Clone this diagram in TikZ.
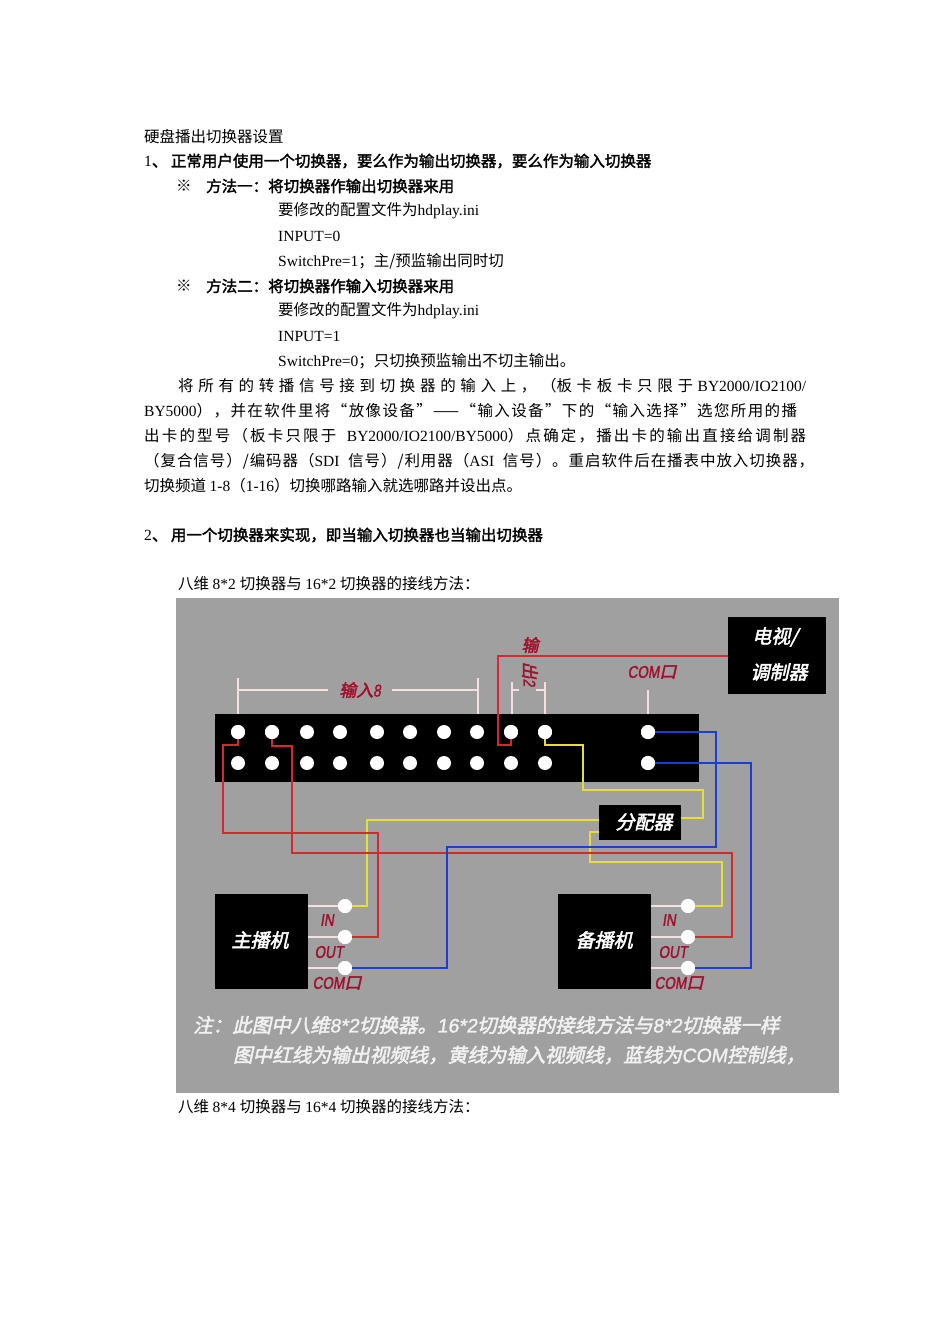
\documentclass[tikz,border=0pt]{standalone}
\usepackage{fontspec}
\setmainfont{Noto Sans CJK SC}
\newfontfamily\lat{Liberation Serif}
\newfontfamily\cjkb[FakeBold=2]{Noto Sans CJK SC}
\newfontfamily\dit[FakeSlant=0.22,FakeBold=2.5]{Noto Sans CJK SC}
\newfontfamily\latit[FakeSlant=0.15,FakeBold=1.5,FakeStretch=0.8]{Liberation Sans}
\newfontfamily\latn[FakeSlant=0.15,FakeBold=1.5]{Liberation Sans}
\newfontfamily\cjkls[LetterSpace=9]{Noto Sans CJK SC}
\newfontfamily\cjklt[LetterSpace=6]{Noto Sans CJK SC}
\newfontfamily\cjklu[LetterSpace=14]{Noto Sans CJK SC}
\definecolor{bg}{HTML}{A0A0A0}
\definecolor{wr}{HTML}{D42A2A}
\definecolor{wy}{HTML}{E6DE3A}
\definecolor{wb}{HTML}{1A3FD0}
\definecolor{lr}{HTML}{A0102E}
\definecolor{tick}{HTML}{F4E0E0}
\begin{document}
\begin{tikzpicture}[x=1pt,y=-1pt,
  tx/.style={anchor=west,inner sep=0pt,font=\fontsize{15.5}{18}\selectfont},
  dot/.style={circle,fill=white,inner sep=0pt,minimum size=14pt},
  blk/.style={fill=black,draw=none},
  lab/.style={text=lr,font=\dit\fontsize{17}{20}\selectfont,inner sep=0pt},
  wt/.style={text=white,font=\dit\fontsize{19}{22}\selectfont,inner sep=0pt},
  rw/.style={wr,line width=2.2pt},
  yw/.style={wy,line width=2.2pt},
  bw/.style={wb,line width=2.2pt},
  tk/.style={tick,line width=1.2pt}]
\useasboundingbox (0,0) rectangle (950,1344);
\fill[white] (0,0) rectangle (950,1344);
% text
\node[tx] (t0) at (144,137) {硬盘播出切换器设置};
\node[tx] (t1) at (144,161) {\cjkb\lat 1\cjkb、 正常用户使用一个切换器，要么作为输出切换器，要么作为输入切换器};
\node[tx] (s1) at (176,186) {※};
\node[tx] (m1) at (206,186) {\cjkb 方法一：将切换器作输出切换器来用};
\node[tx] (a1) at (278,211) {要修改的配置文件为\lat hdplay.ini};
\node[tx] (a2) at (278,236) {\lat INPUT=0};
\node[tx] (a3) at (278,261) {\lat SwitchPre=1\rmfamily；主/预监输出同时切};
\node[tx] (s2) at (176,286) {※};
\node[tx] (m2) at (206,286) {\cjkb 方法二：将切换器作输入切换器来用};
\node[tx] (b1) at (278,311) {要修改的配置文件为\lat hdplay.ini};
\node[tx] (b2) at (278,336) {\lat INPUT=1};
\node[tx] (b3) at (278,361) {\lat SwitchPre=0\rmfamily；只切换预监输出不切主输出。};
\node[tx] (p1) at (178,386) {\makebox[628pt][s]{将 所 有 的 转 播 信 号 接 到 切 换 器 的 输 入 上 ， （板 卡 板 卡 只 限 于 \lat BY2000/IO2100/}};
\node[tx] (p2) at (144,411) {\makebox[662pt][s]{\lat BY5000\cjkls），并在软件里将“放像设备”——“输入设备”下的“输入选择”选您所用的播}};
\node[tx] (p3) at (144,436) {\makebox[662pt][s]{\cjklu 出卡的型号（板卡只限于 \lat BY2000/IO2100/BY5000\cjklu）点确定，播出卡的输出直接给调制器}};
\node[tx] (p4) at (144,461) {\makebox[670pt][s]{\cjklt（复合信号）/编码器（\lat SDI \cjklt 信号）/利用器（\lat ASI \cjklt 信号）。重启软件后在播表中放入切换器，}};
\node[tx] (p5) at (144,486) {切换频道 \lat 1-8\rmfamily（\lat 1-16\rmfamily）切换哪路输入就选哪路并设出点。};
\node[tx] (h2) at (144,535) {\cjkb\lat 2\cjkb、 用一个切换器来实现，即当输入切换器也当输出切换器};
\node[tx] (c1) at (178,584) {八维 \lat 8*2 \rmfamily 切换器与 \lat 16*2 \rmfamily 切换器的接线方法：};
\node[tx] (c2) at (178,1107) {八维 \lat 8*4 \rmfamily 切换器与 \lat 16*4 \rmfamily 切换器的接线方法：};
% diagram
\fill[bg] (176,598) rectangle (839,1093);
\node[blk,minimum width=98pt,minimum height=77pt,inner sep=0pt] (tv) at (777,655.5) {};
\node[wt] at (775,637) {电视/};
\node[wt] at (779,672) {调制器};
\fill[black] (215,714) rectangle (699,782);
\node[blk,minimum width=82pt,minimum height=35pt,inner sep=0pt] (sp) at (640,822.5) {};
\node[wt] at (644,822) {分配器};
\node[blk,minimum width=93pt,minimum height=95pt,inner sep=0pt] (mn) at (261.5,941.5) {};
\node[wt] at (260,940) {主播机};
\node[blk,minimum width=93pt,minimum height=95pt,inner sep=0pt] (bk) at (604.5,941.5) {};
\node[wt] at (604,940) {备播机};
% brackets
\draw[tk] (238,678) -- (238,714) (478,678) -- (478,714) (238,690) -- (328,690) (392,690) -- (478,690);
\node[lab] at (360,690) {输入\latit 8};
\draw[tk] (512,682) -- (512,714) (545,682) -- (545,714) (512,690) -- (519,690) (536,690) -- (545,690);
\node[lab] at (530,645) {输};
\node[lab,rotate=-90] at (530,674) {出\latit 2};
\draw[tk] (648,690) -- (648,714);
\node[lab] at (652,672) {\latit COM\dit 口};
% unit lines
\foreach \yy in {906,937,968}{\draw[tk] (308,\yy) -- (345,\yy); \draw[tk] (651,\yy) -- (688,\yy);}
\node[lab] at (327,920) {\latit IN};
\node[lab] at (329,952) {\latit OUT};
\node[lab] at (337,983) {\latit COM\dit 口};
\node[lab] at (669,920) {\latit IN};
\node[lab] at (673,952) {\latit OUT};
\node[lab] at (679,983) {\latit COM\dit 口};
% dots
\foreach \xx [count=\i] in {238,272,307,340,377,410,444,477,511,545}{
  \node[dot] (u\i) at (\xx,732) {};
  \node[dot] (l\i) at (\xx,763) {};}
\node[dot] (cu) at (648,732) {};
\node[dot] (cl) at (648,763) {};
\node[dot] (mi) at (345,906) {}; \node[dot] (mo) at (345,937) {}; \node[dot] (mc) at (345,968) {};
\node[dot] (bi) at (688,906) {}; \node[dot] (bo) at (688,937) {}; \node[dot] (bc) at (688,968) {};
% wires
\draw[rw] (tv.west |- 0,656) -- (498,656) -- (498,745) -- (511,745) -- (u9.center);
\draw[yw] (u10.center) -- (545,745) -- (583,745) -- (583,790) -- (703,790) -- (703,818) -- (sp.east |- 0,818);
\draw[yw] (sp.west |- 0,820) -- (367,820) -- (367,906) -- (mi.center);
\draw[yw] (sp.west |- 0,832) -- (590,832) -- (590,862) -- (722,862) -- (722,906) -- (bi.center);
\draw[rw] (u1.center) -- (238,745) -- (223,745) -- (223,833) -- (378,833) -- (378,937) -- (mo.center);
\draw[rw] (u2.center) -- (272,746) -- (292,746) -- (292,853) -- (732,853) -- (732,937) -- (bo.center);
\draw[bw] (cu.center) -- (716,732) -- (716,847) -- (447,847) -- (447,968) -- (mc.center);
\draw[bw] (cl.center) -- (751,763) -- (751,968) -- (bc.center);
\foreach \n in {u1,u2,u9,u10,cu,cl,mi,mo,mc,bi,bo,bc}{\node[dot] at (\n) {};}
% note
\node[anchor=west,inner sep=0pt,text=white!85!bg,font=\dit\fontsize{19.5}{22}\selectfont] (n1) at (193,1025) {\makebox[620pt][s]{注：此图中八维\latn 8*2\dit 切换器。\latn 16*2\dit 切换器的接线方法与\latn 8*2\dit 切换器一样}};
\node[anchor=west,inner sep=0pt,text=white!85!bg,font=\dit\fontsize{19.5}{22}\selectfont] (n2) at (233,1055) {\makebox[578pt][s]{图中红线为输出视频线，黄线为输入视频线，蓝线为\latn COM\dit 控制线，}};
\end{tikzpicture}
\end{document}
